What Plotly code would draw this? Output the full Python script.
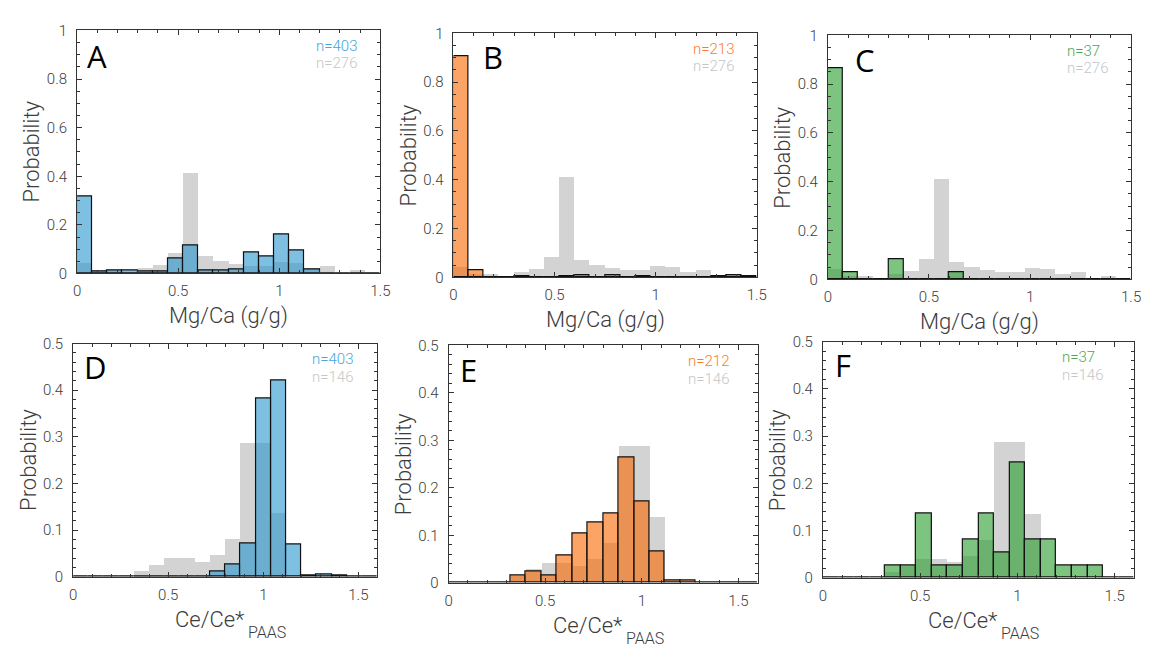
import plotly.graph_objects as go

W, H = 1153, 652

# ---- data: probability per bin -------------------------------------------
# Mg/Ca histograms: 20 bins of 0.075 g/g on [0, 1.5]
MG_BIN = 0.075
mg_reference = [0.043, 0.012, 0.014, 0.005, 0.021, 0.033, 0.084, 0.410, 0.069, 0.050,
                0.037, 0.029, 0.029, 0.047, 0.040, 0.021, 0.029, 0.000, 0.011, 0.000]
mg_blue = [0.316, 0.007, 0.012, 0.012, 0.007, 0.007, 0.064, 0.115, 0.012, 0.012,
           0.016, 0.085, 0.069, 0.160, 0.096, 0.016, 0.000, 0.000, 0.000, 0.000]
mg_orange = [0.904, 0.029, 0.000, 0.000, 0.005, 0.000, 0.000, 0.005, 0.009, 0.000,
             0.009, 0.000, 0.005, 0.000, 0.000, 0.000, 0.000, 0.005, 0.009, 0.005]
mg_green = [0.865, 0.027, 0.000, 0.000, 0.081, 0.000, 0.000, 0.000, 0.027, 0.000,
            0.000, 0.000, 0.000, 0.000, 0.000, 0.000, 0.000, 0.000, 0.000, 0.000]

# Ce/Ce*PAAS histograms: 20 bins of 0.08 on [0, 1.6]
CE_BIN = 0.08
ce_reference = [0.000, 0.000, 0.000, 0.000, 0.014, 0.027, 0.041, 0.041, 0.034, 0.048,
                0.082, 0.288, 0.288, 0.137, 0.000, 0.000, 0.000, 0.000, 0.000, 0.000]
ce_blue = [0.000, 0.000, 0.000, 0.000, 0.000, 0.000, 0.000, 0.000, 0.000, 0.011,
           0.026, 0.071, 0.382, 0.420, 0.069, 0.004, 0.006, 0.003, 0.000, 0.000]
ce_orange = [0.000, 0.000, 0.000, 0.000, 0.015, 0.024, 0.015, 0.057, 0.104, 0.128,
             0.145, 0.265, 0.171, 0.066, 0.004, 0.004, 0.000, 0.000, 0.000, 0.000]
ce_green = [0.000, 0.000, 0.000, 0.000, 0.027, 0.027, 0.135, 0.027, 0.027, 0.081,
            0.135, 0.054, 0.243, 0.081, 0.081, 0.027, 0.027, 0.027, 0.000, 0.000]

panel_letters = ["A", "B", "C", "D", "E", "F"]
sample_sizes = ["n=403", "n=213", "n=37", "n=403", "n=212", "n=37"]
reference_sizes = ["n=276", "n=276", "n=276", "n=146", "n=146", "n=146"]

# ---- styling ---------------------------------------------------------------
BLUE = (40, 150, 205)
ORANGE = (250, 103, 0)
GREEN = (37, 157, 42)
TEXT_COLORS = {BLUE: "#45a6dc", ORANGE: "#fb7d2a", GREEN: "#4aa84e"}
GRAY = "#d3d3d3"
GRAY_TEXT = "#c6c6c6"
AXIS_COLOR = "#333333"
LABEL_COLOR = "#3c3c3c"
FONT = "Roboto"

# panel boxes in pixels: (left, right, top, bottom)
boxes = [
    (74, 381, 22, 272),
    (455, 762, 25, 276),
    (834, 1141, 27, 278),
    (70, 378, 344, 584),
    (450, 763, 346, 590),
    (829, 1144, 342, 585),
]
letter_pos = [(94, 48), (495, 49), (872, 52), (93, 368), (470, 371), (849, 366)]

panels = [
    (mg_reference, mg_blue, BLUE, MG_BIN),
    (mg_reference, mg_orange, ORANGE, MG_BIN),
    (mg_reference, mg_green, GREEN, MG_BIN),
    (ce_reference, ce_blue, BLUE, CE_BIN),
    (ce_reference, ce_orange, ORANGE, CE_BIN),
    (ce_reference, ce_green, GREEN, CE_BIN),
]


def px_x(x):
    return x / W


def px_y(y):
    return 1 - y / H


def label(text, x, y, size, color, xanchor="center", angle=0, family=FONT, weight=300):
    return dict(
        text=text, x=px_x(x), y=px_y(y), xref="paper", yref="paper",
        showarrow=False, xanchor=xanchor, yanchor="middle", textangle=angle,
        borderpad=0,
        font=dict(family=family, size=size, color=color, weight=weight),
    )


fig = go.Figure()
annotations = []

for i, (ref, vals, rgb, step) in enumerate(panels):
    k = "" if i == 0 else str(i + 1)
    xa, ya = "x" + k, "y" + k
    centers = [step * (j + 0.5) for j in range(len(vals))]

    fig.add_trace(go.Bar(
        x=centers, y=ref, width=step, xaxis=xa, yaxis=ya,
        marker=dict(color=GRAY, line=dict(width=0)),
        showlegend=False, hoverinfo="skip",
    ))
    fig.add_trace(go.Bar(
        x=centers, y=vals, width=step, xaxis=xa, yaxis=ya,
        marker=dict(color="rgba(%d,%d,%d,0.6)" % rgb,
                    line=dict(color="#111111", width=1.2)),
        showlegend=False,
    ))

    left, right, top, bottom = boxes[i]
    top_row = i < 3
    x_max = 1.5 if top_row else 1.6
    y_max = 1.0 if top_row else 0.5

    common = dict(
        showline=True, linecolor=AXIS_COLOR, linewidth=1, mirror="allticks",
        ticks="inside", ticklen=5, tickcolor=AXIS_COLOR, tickwidth=1,
        showgrid=False, zeroline=False,
        tickfont=dict(family=FONT, size=15, color=LABEL_COLOR, weight=300),
    )
    fig.layout["xaxis" + k] = dict(
        common, domain=[px_x(left), px_x(right)], anchor=ya,
        range=[0, x_max], tick0=0, dtick=0.5,
        minor=dict(dtick=0.1, ticklen=3, ticks="inside", tickcolor=AXIS_COLOR),
        ticklabelstandoff=4,
    )
    fig.layout["yaxis" + k] = dict(
        common, domain=[px_y(bottom), px_y(top)], anchor=xa,
        range=[0, y_max], tick0=0, dtick=0.2 if top_row else 0.1,
        minor=dict(dtick=0.05 if top_row else 0.02, ticklen=3, ticks="inside",
                   tickcolor=AXIS_COLOR),
        ticklabelstandoff=6,
    )

    # axis titles
    annotations.append(label("Probability", left - 46, (top + bottom) / 2, 22,
                             LABEL_COLOR, angle=-90))
    mid = (left + right) / 2
    if top_row:
        annotations.append(label("Mg/Ca (g/g)", mid, bottom + 44, 22, LABEL_COLOR))
    else:
        annotations.append(label("Ce/Ce*", mid + 21, bottom + 44, 22, LABEL_COLOR,
                                 xanchor="right"))
        annotations.append(label("PAAS", mid + 22, bottom + 57, 16, LABEL_COLOR,
                                 xanchor="left"))

    # panel letter
    lx, ly = letter_pos[i]
    annotations.append(label(panel_letters[i], lx, ly, 31, "#000000",
                             family="Open Sans", weight=400))

    # sample sizes
    annotations.append(label(sample_sizes[i], left + 241, top + 16, 15,
                             TEXT_COLORS[rgb], xanchor="left"))
    annotations.append(label(reference_sizes[i], left + 241, top + 34, 15,
                             GRAY_TEXT, xanchor="left"))

fig.update_layout(
    width=W, height=H,
    margin=dict(l=0, r=0, t=0, b=0),
    paper_bgcolor="white", plot_bgcolor="white",
    barmode="overlay", bargap=0,
    annotations=annotations,
)

fig.write_html("out.html")
